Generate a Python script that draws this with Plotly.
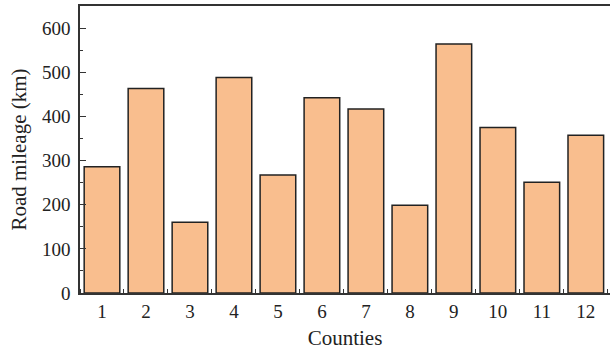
import plotly.graph_objects as go

counties = [str(i) for i in range(1, 13)]
county_pos = list(range(1, 13))
road_mileage = [286, 463, 160, 488, 267, 442, 417, 199, 564, 375, 251, 357]
y_ticks = [0, 100, 200, 300, 400, 500, 600]

font_family = "Liberation Serif, DejaVu Serif, serif"

fig = go.Figure(
    go.Bar(
        x=county_pos,
        y=road_mileage,
        width=0.81,
        marker=dict(color="#F9BE8E", line=dict(color="#222222", width=1.5)),
        hoverinfo="skip",
    )
)

fig.update_layout(
    width=610,
    height=355,
    margin=dict(l=80, r=0, t=6, b=62),
    paper_bgcolor="white",
    plot_bgcolor="white",
    showlegend=False,
    font=dict(family=font_family, size=19, color="#222222"),
)

fig.update_xaxes(
    automargin=False,
    range=[0.5, 12.55],
    tickvals=county_pos,
    ticktext=counties,
    ticks="",
    showgrid=False,
    zeroline=False,
    showline=True,
    linecolor="#333333",
    linewidth=1.5,
    mirror=True,
    tickfont=dict(size=19),
    minor=dict(tick0=0.5, dtick=1, ticks="inside", ticklen=4, tickcolor="#333333", showgrid=False),
    title=dict(text="Counties", font=dict(size=21), standoff=10),
)

fig.update_yaxes(
    automargin=False,
    range=[0, 650],
    tickvals=y_ticks,
    ticks="inside",
    ticklen=6,
    tickcolor="#333333",
    ticklabelstandoff=4,
    showgrid=False,
    zeroline=False,
    showline=True,
    linecolor="#333333",
    linewidth=1.5,
    mirror=True,
    tickfont=dict(size=19),
    minor=dict(dtick=50, ticks="inside", ticklen=3, tickcolor="#333333", showgrid=False),
    title=dict(text="Road mileage (km)", font=dict(size=21), standoff=10),
)

fig.write_html(
    "out.html",
    config={"displayModeBar": False},
    post_script="document.body.style.margin='0';document.body.style.overflow='hidden';",
)
